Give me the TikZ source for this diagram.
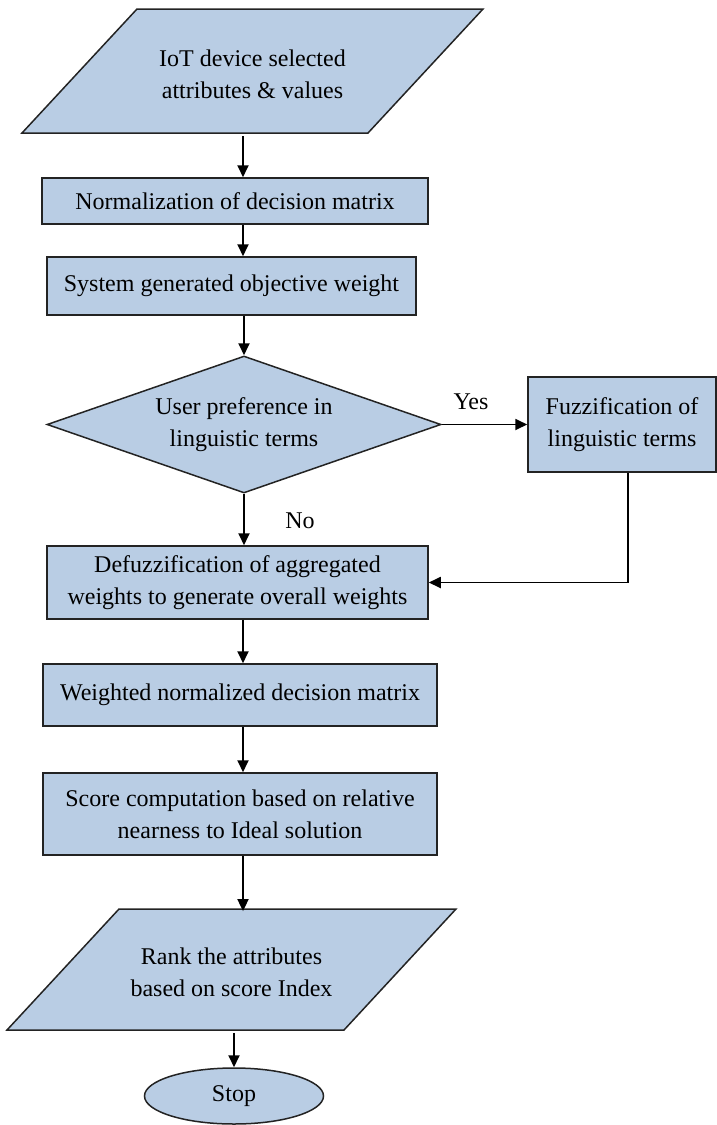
\documentclass[tikz,border=0pt]{standalone}
\usepackage{fontspec}
\setmainfont{Liberation Serif}
\usepackage{tikz}
\usetikzlibrary{arrows.meta,positioning,shapes.geometric}
\definecolor{flowBlue}{RGB}{185,205,228}
\definecolor{flowEdge}{RGB}{35,35,35}

\begin{document}
\begin{tikzpicture}[x=0.5pt,y=-0.5pt,
  every node/.style={font=\fontsize{12}{16}\selectfont, align=center},
  procbox/.style={draw=flowEdge, fill=flowBlue, line width=0.75pt, rectangle, inner sep=0pt},
  iobox/.style={draw=flowEdge, fill=flowBlue, line width=0.75pt},
  askbox/.style={draw=flowEdge, fill=flowBlue, line width=0.75pt, diamond, shape aspect=2.88,
    inner sep=0pt, minimum width=197pt, minimum height=68.5pt},
  endbox/.style={draw=flowEdge, fill=flowBlue, line width=0.75pt, ellipse, inner sep=0pt,
    minimum width=89.5pt, minimum height=28pt},
  flow/.style={draw=black, line width=0.9pt, -{Triangle[length=6pt,width=5.5pt]}}]
\useasboundingbox (0,0) rectangle (717,1125);
\coordinate (spine) at (243,0);

% input / output shapes
\draw[iobox] (137,9) -- (483,9) -- (368,133) -- (22,133) -- cycle;
\node[minimum height=62pt, inner sep=0pt] (input) at (252.5,74) {IoT device selected\\attributes \& values};
\draw[iobox] (119,909) -- (456,909) -- (344,1030) -- (7,1030) -- cycle;
\node[minimum height=60.5pt, inner sep=0pt] (rank) at (231.5,972) {Rank the attributes\\based on score Index};

% process steps
\node[procbox, minimum width=193pt, minimum height=23pt] (norm) at (235,201) {Normalization of decision matrix};
\node[procbox, minimum width=184.5pt, minimum height=29pt] (sysw) at (231.5,286) {System generated objective weight};
\node[askbox] (ask) at (244,424.5) {User preference in\\linguistic terms};
\node[procbox, minimum width=94pt, minimum height=47.5pt] (fuzz) at (622,424.5) {Fuzzification of\\linguistic terms};
\node[procbox, minimum width=190.5pt, minimum height=36.5pt] (defuzz) at (237.5,582.5) {Defuzzification of aggregated\\weights to generate overall weights};
\node[procbox, minimum width=197pt, minimum height=31pt] (wnorm) at (240,695) {Weighted normalized decision matrix};
\node[procbox, minimum width=197pt, minimum height=41pt] (score) at (240,814) {Score computation based on relative\\nearness to Ideal solution};
\node[endbox] (stop) at (234,1096) {Stop};

% branch labels
\node (yes) at (471,402) {Yes};
\node (no) at (300,521) {No};

% connectors
\draw[flow] (input.south -| spine) -- (norm.north -| spine);
\draw[flow] (norm.south -| spine) -- (sysw.north -| spine);
\draw[flow] (sysw.south -| ask.north) -- (ask.north);
\draw[flow] (ask.east) -- (fuzz.west);
\draw[flow] (ask.south) -- (defuzz.north -| ask.south);
\draw[flow] ([xshift=3pt]fuzz.south) |- (defuzz.east);
\draw[flow] (defuzz.south -| spine) -- (wnorm.north -| spine);
\draw[flow] (wnorm.south -| spine) -- (score.north -| spine);
\draw[flow] (score.south -| spine) -- (rank.north -| spine);
\draw[flow] (rank.south -| stop.north) -- (stop.north);
\end{tikzpicture}
\end{document}
